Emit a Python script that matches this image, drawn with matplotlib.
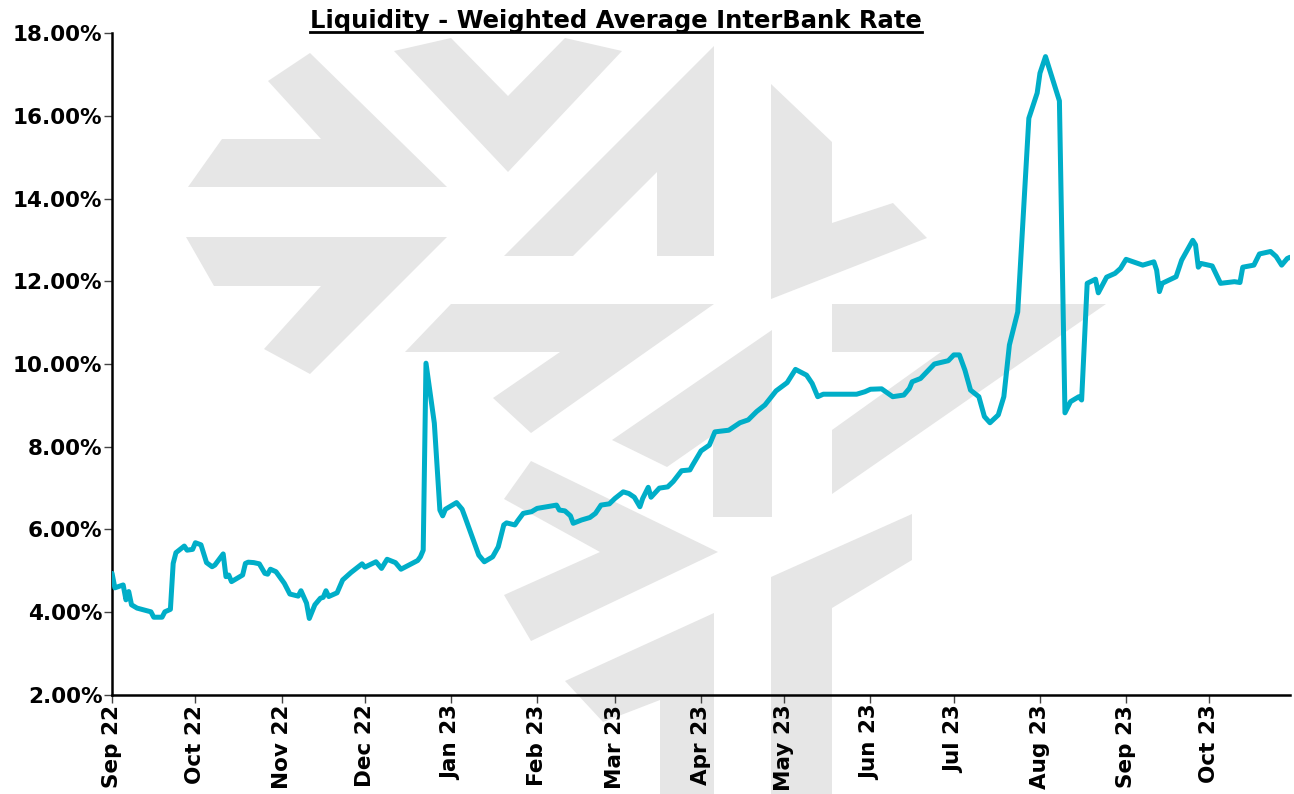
import matplotlib
matplotlib.use("Agg")
import matplotlib.pyplot as plt
import matplotlib.dates as mdates
from matplotlib.patches import Polygon
from matplotlib.ticker import FuncFormatter, MultipleLocator
import pandas as pd

# Weighted average interbank rate (%)
dates = [
    "2022-09-01", "2022-09-02", "2022-09-05", "2022-09-06", "2022-09-07", "2022-09-08",
    "2022-09-10", "2022-09-15", "2022-09-16", "2022-09-19", "2022-09-20", "2022-09-22",
    "2022-09-23", "2022-09-24", "2022-09-27", "2022-09-28", "2022-09-30", "2022-10-01",
    "2022-10-03", "2022-10-05", "2022-10-07", "2022-10-08", "2022-10-11", "2022-10-12",
    "2022-10-13", "2022-10-14", "2022-10-18", "2022-10-19", "2022-10-20", "2022-10-22",
    "2022-10-24", "2022-10-26", "2022-10-27", "2022-10-28", "2022-10-30", "2022-11-02",
    "2022-11-04", "2022-11-07", "2022-11-08", "2022-11-10", "2022-11-11", "2022-11-13",
    "2022-11-15", "2022-11-16", "2022-11-17", "2022-11-18", "2022-11-21", "2022-11-23",
    "2022-11-24", "2022-11-26", "2022-11-30", "2022-12-01", "2022-12-05", "2022-12-07",
    "2022-12-09", "2022-12-12", "2022-12-14", "2022-12-20", "2022-12-21", "2022-12-22",
    "2022-12-23", "2022-12-26", "2022-12-28", "2022-12-29", "2022-12-30", "2023-01-03",
    "2023-01-05", "2023-01-06", "2023-01-09", "2023-01-11", "2023-01-13", "2023-01-16",
    "2023-01-18", "2023-01-20", "2023-01-21", "2023-01-24", "2023-01-25", "2023-01-27",
    "2023-01-30", "2023-02-01", "2023-02-08", "2023-02-09", "2023-02-11", "2023-02-13",
    "2023-02-14", "2023-02-17", "2023-02-20", "2023-02-22", "2023-02-24", "2023-02-27",
    "2023-03-01", "2023-03-04", "2023-03-06", "2023-03-08", "2023-03-10", "2023-03-11",
    "2023-03-13", "2023-03-14", "2023-03-17", "2023-03-20", "2023-03-22", "2023-03-25",
    "2023-03-28", "2023-03-29", "2023-04-01", "2023-04-04", "2023-04-06", "2023-04-11",
    "2023-04-15", "2023-04-18", "2023-04-21", "2023-04-24", "2023-04-28", "2023-05-02",
    "2023-05-05", "2023-05-09", "2023-05-11", "2023-05-13", "2023-05-15", "2023-05-27",
    "2023-05-30", "2023-06-01", "2023-06-05", "2023-06-09", "2023-06-13", "2023-06-15",
    "2023-06-16", "2023-06-19", "2023-06-21", "2023-06-24", "2023-06-29", "2023-07-01",
    "2023-07-03", "2023-07-05", "2023-07-07", "2023-07-10", "2023-07-12", "2023-07-14",
    "2023-07-17", "2023-07-19", "2023-07-21", "2023-07-24", "2023-07-28", "2023-07-31",
    "2023-08-01", "2023-08-03", "2023-08-08", "2023-08-10", "2023-08-12", "2023-08-15",
    "2023-08-16", "2023-08-18", "2023-08-21", "2023-08-22", "2023-08-25", "2023-08-28",
    "2023-08-30", "2023-09-01", "2023-09-07", "2023-09-11", "2023-09-12", "2023-09-13",
    "2023-09-14", "2023-09-19", "2023-09-21", "2023-09-25", "2023-09-26", "2023-09-27",
    "2023-09-28", "2023-10-02", "2023-10-05", "2023-10-10", "2023-10-12", "2023-10-13",
    "2023-10-17", "2023-10-19", "2023-10-23", "2023-10-25", "2023-10-27", "2023-10-29",
    "2023-10-30",
]
rates = [
    4.94, 4.59, 4.66, 4.30, 4.50, 4.18,
    4.10, 4.01, 3.88, 3.88, 4.01, 4.07,
    5.18, 5.44, 5.60, 5.50, 5.52, 5.68,
    5.63, 5.20, 5.10, 5.14, 5.41, 4.86,
    4.90, 4.74, 4.90, 5.18, 5.21, 5.20,
    5.17, 4.94, 4.92, 5.04, 4.98, 4.70,
    4.44, 4.39, 4.52, 4.22, 3.85, 4.18,
    4.34, 4.36, 4.52, 4.38, 4.47, 4.78,
    4.84, 4.96, 5.17, 5.09, 5.22, 5.06,
    5.28, 5.20, 5.04, 5.25, 5.34, 5.50,
    10.02, 8.57, 6.47, 6.33, 6.49, 6.65,
    6.49, 6.31, 5.75, 5.38, 5.22, 5.34,
    5.58, 6.11, 6.16, 6.11, 6.21, 6.39,
    6.43, 6.51, 6.59, 6.47, 6.45, 6.33,
    6.15, 6.23, 6.29, 6.39, 6.59, 6.62,
    6.75, 6.91, 6.87, 6.78, 6.55, 6.75,
    7.02, 6.78, 7.00, 7.03, 7.16, 7.42,
    7.44, 7.56, 7.90, 8.04, 8.36, 8.40,
    8.58, 8.65, 8.85, 9.01, 9.35, 9.55,
    9.87, 9.73, 9.53, 9.21, 9.27, 9.27,
    9.33, 9.39, 9.40, 9.21, 9.25, 9.41,
    9.57, 9.65, 9.79, 10.00, 10.08, 10.22,
    10.22, 9.85, 9.37, 9.21, 8.73, 8.58,
    8.77, 9.21, 10.46, 11.26, 15.94, 16.55,
    17.03, 17.43, 16.36, 8.82, 9.09, 9.21,
    9.13, 11.95, 12.05, 11.72, 12.10, 12.19,
    12.31, 12.53, 12.39, 12.47, 12.27, 11.75,
    11.95, 12.11, 12.51, 12.99, 12.88, 12.34,
    12.43, 12.37, 11.95, 11.99, 11.97, 12.34,
    12.39, 12.66, 12.72, 12.60, 12.39, 12.55,
    12.58,
]

TITLE = "Liquidity - Weighted Average InterBank Rate"
LINE_COLOR = "#00AEC8"
MARK_COLOR = "#E6E6E6"
FONT = "DejaVu Sans"
W, H = 1294, 794

# background logo watermark, outline points in figure pixels (y down)
LOGO = [
    [(310, 53), (447, 187), (188, 187), (222, 139), (321, 139), (268, 81)],
    [(186, 237), (447, 237), (310, 374), (264, 349), (321, 286), (214, 286)],
    [(394, 51), (451, 38), (508, 96), (565, 38), (622, 51), (508, 172)],
    [(714, 46), (714, 256), (657, 256), (657, 172), (573, 256), (504, 256)],
    [(771, 84), (832, 142), (832, 223), (893, 203), (927, 238), (771, 299)],
    [(451, 304), (714, 304), (531, 433), (493, 398), (560, 352), (405, 352)],
    [(832, 304), (1106, 304), (832, 494), (832, 430), (941, 352), (832, 352)],
    [(772, 330), (772, 517), (713, 517), (713, 435), (667, 467), (612, 440)],
    [(531, 461), (718, 552), (531, 641), (504, 595), (600, 552), (504, 499)],
    [(771, 577), (912, 514), (912, 560), (832, 608), (832, 794), (771, 794)],
    [(714, 613), (714, 794), (660, 794), (660, 700), (603, 722), (565, 681)],
]

x = pd.to_datetime(dates)

fig = plt.figure(figsize=(W / 100, H / 100), dpi=100)
for pts in LOGO:
    fig.add_artist(Polygon([(px / W, 1 - py / H) for px, py in pts], closed=True,
                           transform=fig.transFigure, facecolor=MARK_COLOR,
                           edgecolor="none", zorder=-1))

ax = fig.add_axes([0.0866, 0.1247, 0.9103, 0.8337])
ax.patch.set_visible(False)

ax.plot(x, rates, color=LINE_COLOR, lw=3.6, solid_joinstyle="round",
        solid_capstyle="round", zorder=3)

ax.set_ylim(2, 18)
ax.yaxis.set_major_locator(MultipleLocator(2))
ax.yaxis.set_major_formatter(FuncFormatter(lambda v, _: f"{v:.2f}%"))
ax.set_xlim(pd.Timestamp("2022-09-01"), pd.Timestamp("2023-10-30"))
ax.xaxis.set_major_locator(mdates.MonthLocator())
ax.xaxis.set_major_formatter(mdates.DateFormatter("%b %y"))

for side in ("top", "right"):
    ax.spines[side].set_visible(False)
for side in ("left", "bottom"):
    ax.spines[side].set_color("black")
    ax.spines[side].set_linewidth(1.8)

ax.tick_params(axis="y", direction="out", length=6, width=1, color="#444444",
               labelsize=15.5, pad=1)
ax.tick_params(axis="x", direction="out", length=6, width=1, color="#444444",
               labelsize=15.5, pad=1, labelrotation=90)
for lab in ax.get_xticklabels() + ax.get_yticklabels():
    lab.set_fontweight("bold")
    lab.set_family(FONT)

# title with underline
t = fig.text(0.476, 0.974, TITLE, ha="center", va="center", fontsize=17.5,
             fontweight="bold", family=FONT)
fig.canvas.draw()
bb = t.get_window_extent().transformed(fig.transFigure.inverted())
fig.add_artist(plt.Line2D([bb.x0, bb.x1], [bb.y0 + 0.001, bb.y0 + 0.001],
                          transform=fig.transFigure, color="black", lw=2))

fig.savefig("out.png", dpi=100)
